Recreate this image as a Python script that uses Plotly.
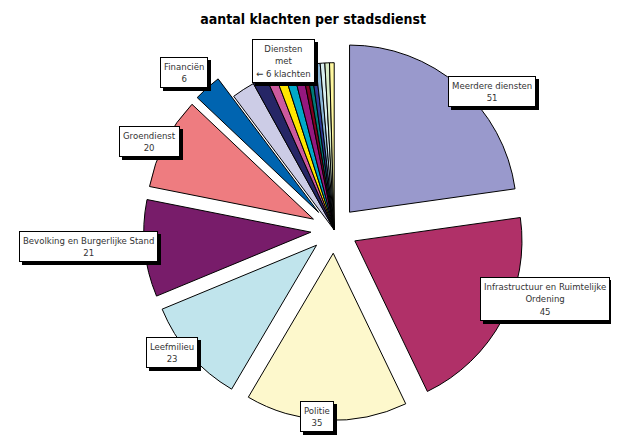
import plotly.graph_objects as go

# slices, clockwise from 12 o'clock
diensten = ["Meerdere diensten", "Infrastructuur en Ruimtelijke Ordening", "Politie",
            "Leefmilieu", "Bevolking en Burgerlijke Stand", "Groendienst", "Financiën",
            "klein 1", "klein 2", "klein 3", "klein 4", "klein 5", "klein 6", "klein 7",
            "klein 8", "klein 9", "klein 10", "klein 11", "klein 12", "klein 13"]
klachten = [51, 45, 35, 23, 21, 20, 6, 5, 3, 2, 2, 2, 2, 1, 1, 1, 1, 1, 1, 1]

kleuren = ["#9999CC", "#B03068", "#FDF8CC", "#C0E4EC", "#781C6A", "#EE7C80", "#0064B0",
           "#CCCCE6", "#262666", "#CC5A9E", "#FFE600", "#00A8C8", "#95187F", "#800020",
           "#007A78", "#2E3A96", "#8CB8D8", "#D8EEF0", "#D8ECC8", "#FFF8A0"]
pulls = [0.14] * 7 + [0.0] * 13

# label boxes (text, x, y in pixels from top-left of the screenshot)
labels = [
    ("Meerdere diensten<br>51", 492, 92),
    ("Infrastructuur en Ruimtelijke<br>Ordening<br>45", 545, 299),
    ("Politie<br>35", 317, 416),
    ("Leefmilieu<br>23", 172, 352),
    ("Bevolking en Burgerlijke Stand<br>21", 88, 247),
    ("Groendienst<br>20", 149, 141),
    ("Financiën<br>6", 184, 72),
    ("Diensten<br>met<br>← 6 klachten", 283, 61),
]

W, H = 619, 435
OFF = 8  # page body margin
fnt = "DejaVu Sans Condensed, Liberation Sans, Arial, sans-serif"

fig = go.Figure(go.Pie(
    labels=diensten, values=klachten, sort=False, direction="clockwise", rotation=0,
    marker=dict(colors=kleuren, line=dict(color="black", width=1)),
    pull=pulls, textinfo="none", hoverinfo="label+value", showlegend=False,
    domain=dict(x=[0.219, 0.835], y=[0.052, 0.928]),
))

annos = []
for txt, px, py in labels:
    for shadow in (True, False):
        annos.append(dict(
            text=txt, x=(px - OFF) / W, y=1 - (py - OFF) / H, xref="paper", yref="paper",
            xanchor="center", yanchor="middle",
            showarrow=False, align="center",
            font=dict(family=fnt, size=9.5, color="black" if shadow else "#333333"),
            bgcolor="black" if shadow else "white",
            bordercolor="black", borderwidth=1, borderpad=3,
            xshift=3 if shadow else 0, yshift=-3 if shadow else 0,
        ))

fig.update_layout(
    width=W, height=H, margin=dict(l=0, r=0, t=0, b=0),
    paper_bgcolor="white", plot_bgcolor="white",
    title=dict(text="<b>aantal klachten per stadsdienst</b>", x=0.493, y=0.975,
               xanchor="center", yanchor="middle",
               font=dict(family=fnt, size=14, color="black")),
    annotations=annos,
)

fig.write_html("out.html")
